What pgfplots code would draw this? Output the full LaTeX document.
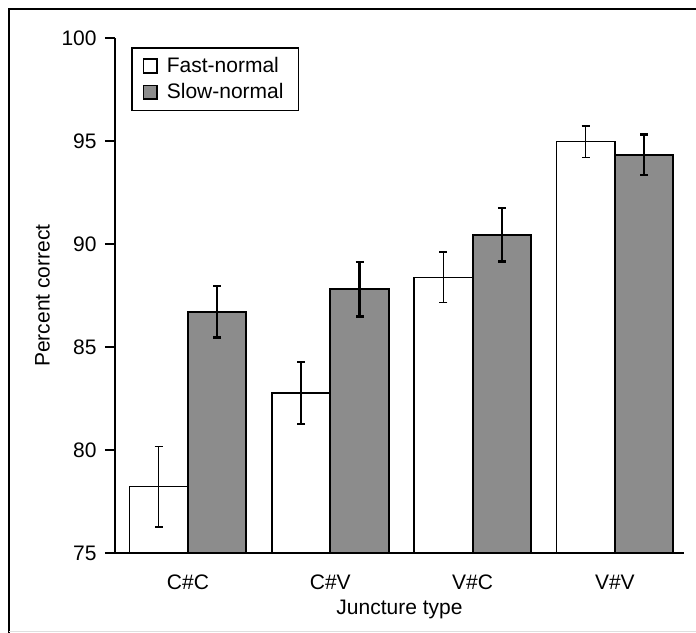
\documentclass[border=0pt]{standalone}
\usepackage{fontspec}
\setmainfont{Liberation Sans}
\usepackage{pgfplots}
\pgfplotsset{compat=1.18}
\definecolor{bargray}{RGB}{140,140,140}

\begin{document}
\fontsize{10.5bp}{12.6bp}\selectfont
\begin{tikzpicture}
\begin{axis}[
  at={(57.5bp,40bp)}, anchor=south west,
  scale only axis, width=284.5bp, height=257.5bp,
  ybar=0pt, bar width=29.25bp,
  xmin=-0.513, xmax=3.486, ymin=75, ymax=100,
  axis lines=left, axis line style={-, line width=1bp},
  xtick={0,1,2,3}, xticklabels={C\#C, C\#V, V\#C, V\#V},
  x tick style={draw=none},
  ytick={75,80,...,100},
  y tick style={line width=1bp, black},
  tick align=outside, major tick length=5bp,
  /pgf/number format/assume math mode=true,
  xticklabel style={anchor=base, inner sep=0pt, yshift=-13.35bp},
  yticklabel style={anchor=east, inner sep=0pt, xshift=-4bp},
  xlabel={Juncture type}, ylabel={Percent correct},
  xlabel style={at={(axis description cs:0.5,-0.1198)}, anchor=base},
  ylabel style={at={(axis description cs:-0.1274,0.5)}, anchor=center, rotate=0},
  legend style={at={(axis description cs:0.0281,0.9825)}, anchor=north west,
    draw=black, line width=0.8bp, inner xsep=5.5bp, inner ysep=2.5bp,
    row sep=0bp, column sep=2.5bp, cells={anchor=west}},
  legend image code/.code={\draw[#1, line width=0.75bp] (0bp,-3.4bp) rectangle (6.8bp,3.4bp);},
  error bars/y dir=both, error bars/y explicit,
]
\addplot[fill=white, draw=black, line width=0.75bp,
  error bars/error bar style={line width=0.75bp},
  error bars/error mark options={rotate=90, line width=0.75bp, mark size=2bp, black}]
  coordinates {
  (0, 78.22) +- (0, 1.95)
  (1, 82.77) +- (0, 1.50)
  (2, 88.38) +- (0, 1.22)
  (3, 94.97) +- (0, 0.76)
};
\addplot[fill=bargray, draw=black, line width=1bp,
  error bars/error bar style={line width=1.25bp},
  error bars/error mark options={rotate=90, line width=1.25bp, mark size=2bp, black}]
  coordinates {
  (0, 86.71) +- (0, 1.24)
  (1, 87.80) +- (0, 1.32)
  (2, 90.45) +- (0, 1.30)
  (3, 94.34) +- (0, 0.98)
};
\legend{Fast-normal, Slow-normal}
\end{axis}
\draw[line width=1bp] (4.5bp,-5bp) -- (4.5bp,312bp) -- (360bp,312bp);
\draw[line width=0.5bp, gray!25] (4.5bp,0.6bp) -- (360bp,0.6bp);
\pgfresetboundingbox
\path[use as bounding box] (0,0) rectangle (348bp,316.5bp);
\end{tikzpicture}
\end{document}
